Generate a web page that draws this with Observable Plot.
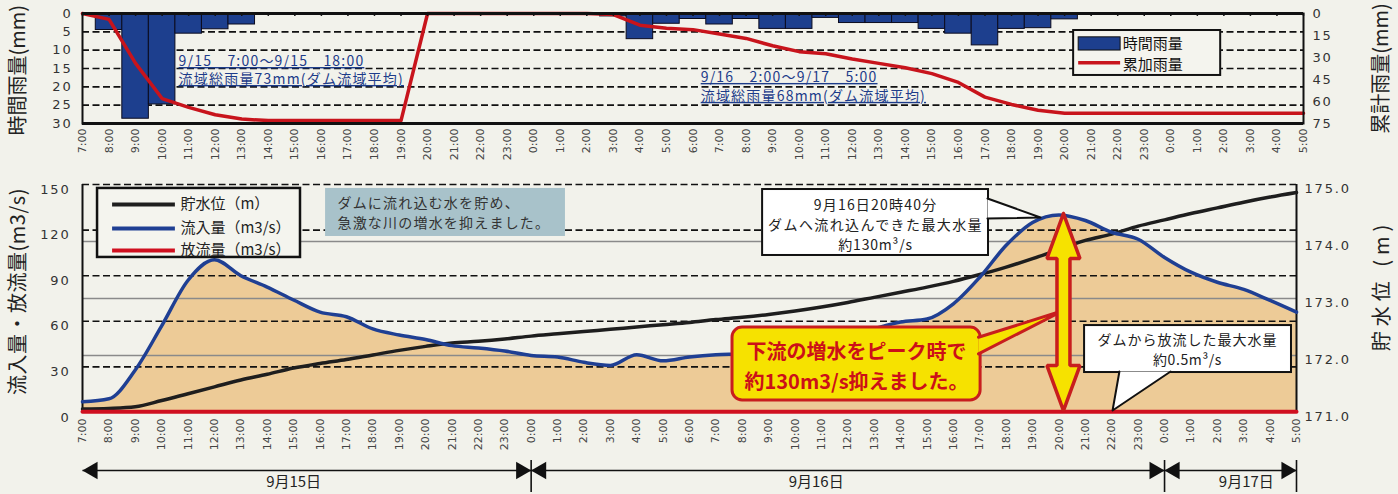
<!DOCTYPE html>
<html><head><meta charset="utf-8">
<script src="https://cdn.jsdelivr.net/npm/d3@7"></script>
<script src="https://cdn.jsdelivr.net/npm/@observablehq/plot@0.6"></script>
<style>
body{margin:0;background:#f2f2eb;}
#wrap{position:relative;width:1398px;height:494px;overflow:hidden;background:#f2f2eb;}
#wrap svg{position:absolute;left:0;overflow:visible;}
</style></head><body><div id="wrap"></div>
<script>
// ---------- data ----------
const timeLabels = ["7:00","8:00","9:00","10:00","11:00","12:00","13:00","14:00","15:00","16:00","17:00","18:00","19:00","20:00","21:00","22:00","23:00",
  "0:00","1:00","2:00","3:00","4:00","5:00","6:00","7:00","8:00","9:00","10:00","11:00","12:00","13:00","14:00","15:00","16:00","17:00","18:00","19:00","20:00","21:00","22:00","23:00",
  "0:00","1:00","2:00","3:00","4:00","5:00"];
const dateLabels = ["9月15日","9月16日","9月17日"];
const dateStart = [0,17,41];
const dateEnd = [17,41,46];
const dateLabelAt = [8.0,27.8,44.1];

// 時間雨量 (mm)
const rainHourly = [0,4.5,28.7,24.8,5.5,4.3,3.0, 0,0,0,0,0,0,0,0,0,0, 0,0,0,
  0.8,7.0,2.8,1.5,3.0,1.5,4.2,4.2,1.2,2.6,2.6,2.6,4.2,5.5,8.7,4.2,4.0,1.6, 0,0,0,0,0,0,0,0,0];
// 累加雨量 (mm)
const rainCumulative = [0,4,34,58,64,69,72, 73,73,73,73,73,73, 0,0,0,0, 0,0,0,
  0.7,8,10,11,14,17,22,26,27.5,31,34,37,41,47,57,62,66,68, 68,68,68,68,68,68,68,68,68];
// 流入量 (m3/s)
const inflow = [7,9,28,57,87,100.5,90,82.5,74,66,63,55,51,48,44,42.5,40.5,
  37.5,36.5,33,31,38,34,36.5,38,38.5,40,42,46,50,55,59.5,61.5,71.5,89,110,125,130,126.3,118.6,114,
  102,92.3,85.7,81,73.7,66];
// 貯水位 (m)
const storageLevel = [171.06,171.07,171.10,171.21,171.33,171.45,171.57,171.67,171.78,171.86,171.93,172.01,172.09,172.16,172.22,172.25,172.29,
  172.34,172.38,172.42,172.46,172.50,172.54,172.58,172.63,172.67,172.72,172.78,172.85,172.93,173.02,173.11,173.20,173.30,173.42,173.55,173.70,173.86,174.02,174.13,174.27,
  174.38,174.49,174.59,174.69,174.78,174.86];
// 放流量 (m3/s)
const outflow = [0.5,0.5,0.5,0.5,0.5,0.5,0.5,0.5,0.5,0.5,0.5,0.5,0.5,0.5,0.5,0.5,0.5,
  0.5,0.5,0.5,0.5,0.5,0.5,0.5,0.5,0.5,0.5,0.5,0.5,0.5,0.5,0.5,0.5,0.5,0.5,0.5,0.5,0.5,0.5,0.5,0.5,
  0.5,0.5,0.5,0.5,0.5,0.5];

const rainTicks = [0,5,10,15,20,25,30];
const cumTicks = [0,15,30,45,60,75];
const flowTicks = [0,30,60,90,120,150];
const levelTicks = [171,172,173,174,175];

// ---------- helpers ----------
const hours = d3.range(timeLabels.length);
const rainRows = hours.map(i => ({i, rain: rainHourly[i], cum: rainCumulative[i]}));
const flowRows = hours.map(i => ({i, inflow: inflow[i], level: storageLevel[i], outflow: outflow[i]}));
const cumToRain = v => v * 30 / 75;
const levelToFlow = v => (v - 171) * 37.5;

const CJK = '"Noto Sans CJK JP", sans-serif';
const NUM = '"DejaVu Sans", sans-serif';
const BLUE = "#1d3f8e", RED = "#c8141c", YEL = "#f6e200", RED2 = "#c81e1e";
const style = {background:"transparent", fontFamily: NUM, color:"#333", overflow:"visible"};
const wrap = document.getElementById("wrap");

// ---------- top chart: rainfall ----------
const topPlot = Plot.plot({
  width: 1398, height: 170,
  marginLeft: 82, marginRight: 95, marginTop: 13, marginBottom: 47,
  style,
  x: {domain: [0, 46], label: null},
  y: {domain: [0, 30], reverse: true, label: null},
  marks: [
    Plot.ruleY([5,10,15,20,25], {stroke:"#111", strokeWidth:1.6, strokeDasharray:"7,3.5"}),
    Plot.rectY(rainRows.filter(d => d.rain > 0), {x1: d => d.i - 0.5, x2: d => d.i + 0.5, y1: 0, y2: "rain", fill: BLUE, stroke:"#0b0b1e", strokeWidth:1}),
    Plot.line(rainRows, {x:"i", y: d => cumToRain(d.cum), stroke: RED, strokeWidth:3.5}),
    Plot.ruleX(hours, {y1:0, y2:0.8, stroke:"#111", strokeWidth:1.5}),
    Plot.frame({stroke:"#111", strokeWidth:2}),
    Plot.ruleY([0, 30], {stroke:"#111", strokeWidth:3}),
    Plot.axisY(rainTicks, {anchor:"left", tickSize:0, tickPadding:10, fontSize:13, label:null}),
    Plot.axisY(cumTicks.map(cumToRain), {anchor:"right", tickSize:0, tickPadding:9, fontSize:13, label:null, tickFormat: d => String(Math.round(d * 75 / 30))}),
    Plot.axisX(hours, {tickFormat: i => timeLabels[i], tickRotate:-90, tickSize:0, tickPadding:5, fontSize:11, label:null, fill:"#444"}),
    Plot.text(["時間雨量(mm)"], {text: d => d, x:-2.41, y:15.5, rotate:-90, fontSize:20, fontFamily:CJK, fill:"#222"}),
    Plot.text(["累計雨量(mm)"], {text: d => d, x:48.94, y:15.0, rotate:-90, fontSize:20, fontFamily:CJK, fill:"#222"}),
    // annotations
    Plot.text([
      {x:3.62, y:13.1, t:"9/15　7:00～9/15　18:00"},
      {x:3.62, y:18.0, t:"流域総雨量73mm(ダム流域平均)"},
      {x:23.29, y:17.45, t:"9/16　2:00～9/17　5:00"},
      {x:23.29, y:22.6, t:"流域総雨量68mm(ダム流域平均)"}
    ], {x:"x", y:"y", text:"t", textAnchor:"start", fontSize:14, fontFamily:CJK, fill:"#1d3c8a"}),
    // legend
    Plot.rect([0], {x1:37.34, x2:42.88, y1:4.64, y2:16.9, fill:"#f4f4ee", stroke:"#111", strokeWidth:2}),
    Plot.rect([0], {x1:37.53, x2:39.11, y1:6.5, y2:10.1, fill: BLUE, stroke:"#111", strokeWidth:1}),
    Plot.ruleY([13.4], {x1:37.53, x2:39.11, stroke: RED, strokeWidth:3.5}),
    Plot.text([{y:8.45, t:"時間雨量"},{y:14.1, t:"累加雨量"}], {x:39.19, y:"y", text:"t", textAnchor:"start", fontSize:15, fontFamily:CJK, fill:"#111"})
  ]
});
topPlot.style.top = "0px";
wrap.appendChild(topPlot);

// ---------- bottom chart: flow & level ----------
const arrowShape = [
  {x:37.17, y:130.9},{x:37.795, y:101.3},{x:37.416, y:101.3},{x:37.416, y:30.9},{x:37.795, y:30.9},
  {x:37.17, y:1.3},{x:36.545, y:30.9},{x:36.924, y:30.9},{x:36.924, y:101.3},{x:36.545, y:101.3},{x:37.17, y:130.9}
];
const botPlot = Plot.plot({
  width: 1398, height: 290,
  marginLeft: 82, marginRight: 102, marginTop: 14, marginBottom: 48,
  style,
  x: {domain: [0, 46], label: null},
  y: {domain: [0, 150], label: null},
  marks: [
    Plot.areaY(flowRows, {x:"i", y:"inflow", fill:"#edcb97", curve:"monotone-x"}),
    Plot.ruleY(levelTicks.slice(1, -1).map(levelToFlow), {stroke:"#8a8a8a", strokeWidth:1.3}),
    Plot.ruleY([30,60,90,120,150], {stroke:"#111", strokeWidth:1.6, strokeDasharray:"7,3.5"}),
    Plot.ruleX([0, 46], {stroke:"#111", strokeWidth:2}),
    Plot.line(flowRows, {x:"i", y: d => levelToFlow(d.level), stroke:"#1e1e1e", strokeWidth:3.5, curve:"monotone-x"}),
    Plot.line(flowRows, {x:"i", y:"inflow", stroke:"#1f3f93", strokeWidth:3.5, curve:"monotone-x"}),
    Plot.line(flowRows, {x:"i", y:"outflow", stroke:"#d01020", strokeWidth:4}),
    Plot.axisY(flowTicks, {anchor:"left", tickSize:0, tickPadding:12, fontSize:13, dy:5, label:null}),
    Plot.axisY(levelTicks.map(levelToFlow), {anchor:"right", tickSize:0, tickPadding:8, fontSize:13, dy:4, label:null, tickFormat: d => (171 + d / 37.5).toFixed(1)}),
    Plot.axisX(hours, {tickFormat: i => timeLabels[i], tickRotate:-90, tickSize:0, tickPadding:6, fontSize:11, label:null, fill:"#444"}),
    Plot.text(["流入量・放流量(m3/s)"], {text: d => d, x:-2.43, y:79.6, rotate:-90, fontSize:20, fontFamily:CJK, fill:"#222"}),
    Plot.text(["貯水位 (m)"], {text: d => d, x:49.26, y:83.6, rotate:-90, fontSize:20, fontFamily:CJK, fill:"#222"}),
    // legend
    Plot.rect([0], {x1:0.57, x2:8.26, y1:102, y2:147.4, fill:"#f4f4ee", stroke:"#111", strokeWidth:2.5}),
    Plot.ruleY([{y:136.8, c:"#1e1e1e"},{y:121.1, c:"#1f3f93"},{y:106.6, c:"#d01020"}], {y:"y", x1:1.14, x2:3.52, stroke:"c", strokeWidth:4}),
    Plot.text([{y:136.8, t:"貯水位（m）"},{y:121.1, t:"流入量（m3/s）"},{y:106.6, t:"放流量（m3/s）"}], {x:3.71, y:"y", text:"t", textAnchor:"start", fontSize:15, fontFamily:CJK, fill:"#222"}),
    // blue note
    Plot.rect([0], {x1:9.21, x2:18.30, y1:115.8, y2:147.4, fill:"#a8c2ca"}),
    Plot.text([{y:137.5, t:"ダムに流れ込む水を貯め、"},{y:124.3, t:"急激な川の増水を抑えました。"}], {x:9.66, y:"y", text:"t", textAnchor:"start", fontSize:14, fontFamily:CJK, fill:"#333"}),
    // white callout: peak inflow
    Plot.rect([0], {x1:25.77, x2:34.33, y1:103.3, y2:146.7, fill:"#ffffff", stroke:"#111", strokeWidth:2}),
    Plot.line([{x:34.29, y:140.8},{x:36.30, y:128.3},{x:34.29, y:127.6}], {x:"x", y:"y", fill:"#ffffff", stroke:"#111", strokeWidth:2}),
    Plot.text([{y:136.2, t:"9月16日20時40分"},{y:123, t:"ダムへ流れ込んできた最大水量"},{y:109.9, t:"約130m³/s"}], {x:30.05, y:"y", text:"t", fontSize:14, fontFamily:CJK, fill:"#222"}),
    // white callout: max outflow
    Plot.rect([0], {x1:37.97, x2:45.81, y1:26.3, y2:57.2, fill:"#ffffff", stroke:"#111", strokeWidth:2}),
    Plot.line([{x:39.29, y:26.95},{x:39.03, y:1.3},{x:41.23, y:26.95}], {x:"x", y:"y", fill:"#ffffff", stroke:"#111", strokeWidth:2}),
    Plot.text([{y:47.4, t:"ダムから放流した最大水量"},{y:34.2, t:"約0.5m³/s"}], {x:41.87, y:"y", text:"t", fontSize:14, fontFamily:CJK, fill:"#222"}),
    // yellow callout
    Plot.rect([0], {x1:24.63, x2:34.03, y1:7.9, y2:55.9, rx:10, fill: YEL, stroke: RED2, strokeWidth:3}),
    Plot.line([{x:33.95, y:49.5},{x:37.17, y:67.1},{x:33.95, y:38.6}], {x:"x", y:"y", fill: YEL, stroke: RED2, strokeWidth:3}),
    Plot.text([{y:39.5, t:"下流の増水をピーク時で"},{y:19.7, t:"約130m3/s抑えました。"}], {x:29.33, y:"y", text:"t", fontSize:20, fontWeight:"bold", fontFamily:CJK, fill:"#cc1018"}),
    // double arrow
    Plot.line(arrowShape, {x:"x", y:"y", fill: YEL, stroke: RED2, strokeWidth:3.5, strokeLinejoin:"miter"})
  ]
});
botPlot.style.top = "170px";
wrap.appendChild(botPlot);

// ---------- date bar ----------
const dateRows = dateLabels.map((t, k) => ({t, s: dateStart[k], e: dateEnd[k], m: dateLabelAt[k]}));
const datePlot = Plot.plot({
  width: 1398, height: 39,
  marginLeft: 82, marginRight: 102, marginTop: 0, marginBottom: 0,
  style,
  x: {domain: [0, 46], label: null, axis: null},
  y: {domain: [0, 39], range: [0, 39], axis: null},
  marks: [
    Plot.link(dateRows, {x1:"s", x2:"e", y1:15, y2:15, stroke:"#111", strokeWidth:1.6}),
    Plot.dot(dateRows, {x:"s", y:15, symbol:"triangle", r:6.5, rotate:-90, dx:10, fill:"#111", stroke:"none"}),
    Plot.dot(dateRows, {x:"e", y:15, symbol:"triangle", r:6.5, rotate:90, dx:-10, fill:"#111", stroke:"none"}),
    Plot.ruleX(dateEnd, {y1:5, y2:37, stroke:"#111", strokeWidth:1.6}),
    Plot.text(dateRows, {x:"m", y:27, text:"t", fontSize:15, fontFamily:CJK, fill:"#222"})
  ]
});
datePlot.style.top = "455px";
wrap.appendChild(datePlot);

// ---------- text styling ----------
const spacing = {
  "9/15　7:00～9/15　18:00": [1.2, true], "流域総雨量73mm(ダム流域平均)": [1.2, true],
  "9/16　2:00～9/17　5:00": [1.2, true], "流域総雨量68mm(ダム流域平均)": [1.2, true],
  "ダムに流れ込む水を貯め、": [1.2, false], "急激な川の増水を抑えました。": [1.2, false],
  "ダムへ流れ込んできた最大水量": [1.4, false], "9月16日20時40分": [1.2, false], "約130m³/s": [0.8, false],
  "ダムから放流した最大水量": [1.0, false], "約0.5m³/s": [0.6, false],
  "貯水位 (m)": [5, false], "流入量・放流量(m3/s)": [0.5, false]
};
d3.select(wrap).selectAll("text").each(function() {
  const s = spacing[this.textContent];
  if (s) {
    this.setAttribute("letter-spacing", s[0]);
    if (s[1]) this.style.textDecoration = "underline";
  }
});
d3.select(wrap).selectAll('g[aria-label="y-axis tick label"] text').attr("letter-spacing", 1.8);
</script></body></html>
